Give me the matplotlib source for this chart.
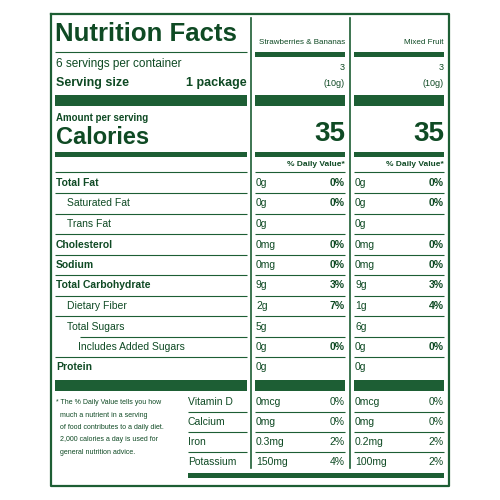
import matplotlib.pyplot as plt

# label data
title = "Nutrition Facts"
products = ["Strawberries & Bananas", "Mixed Fruit"]
servings = ["3", "3"]
serving_grams = ["(10g)", "(10g)"]
calories = ["35", "35"]

nutrients = ["Total Fat", "Saturated Fat", "Trans Fat", "Cholesterol", "Sodium",
             "Total Carbohydrate", "Dietary Fiber", "Total Sugars",
             "Includes Added Sugars", "Protein"]
indent = [0, 1, 1, 0, 0, 0, 1, 1, 2, 0]
amount_a = ["0g", "0g", "0g", "0mg", "0mg", "9g", "2g", "5g", "0g", "0g"]
pct_a = ["0%", "0%", "", "0%", "0%", "3%", "7%", "", "0%", ""]
amount_b = ["0g", "0g", "0g", "0mg", "0mg", "9g", "1g", "6g", "0g", "0g"]
pct_b = ["0%", "0%", "", "0%", "0%", "3%", "4%", "", "0%", ""]

vitamins = ["Vitamin D", "Calcium", "Iron", "Potassium"]
vit_amount_a = ["0mcg", "0mg", "0.3mg", "150mg"]
vit_pct_a = ["0%", "0%", "2%", "4%"]
vit_amount_b = ["0mcg", "0mg", "0.2mg", "100mg"]
vit_pct_b = ["0%", "0%", "2%", "2%"]

footnote = ["* The % Daily Value tells you how", "much a nutrient in a serving",
            "of food contributes to a daily diet.", "2,000 calories a day is used for",
            "general nutrition advice."]

GREEN = "#1d5e34"
TEXT = "#0f4a24"
plt.rcParams['font.family'] = ['Liberation Sans', 'DejaVu Sans']

fig = plt.figure(figsize=(5, 5), dpi=100)
ax = fig.add_axes([0, 0, 1, 1])
ax.set_xlim(0, 500)
ax.set_ylim(500, 0)
ax.axis('off')

def hline(y, x0, x1, lw=1.0):
    ax.plot([x0, x1], [y, y], color=GREEN, lw=lw, solid_capstyle='butt')

def bar(y0, y1, x0, x1):
    ax.fill_between([x0, x1], y0, y1, color=GREEN, lw=0)

def txt(x, y, s, size=7.5, bold=False, ha='left', color=TEXT):
    ax.text(x, y, s, fontsize=size, fontweight='bold' if bold else 'normal',
            ha=ha, va='center', color=color)

# border and column dividers
ax.plot([51, 449, 449, 51, 51], [14, 14, 486, 486, 14], color=GREEN, lw=1.6)
ax.plot([251, 251], [18, 468], color=GREEN, lw=1.2)
ax.plot([350, 350], [18, 468], color=GREEN, lw=1.2)

cols = [(255, 345), (354, 444)]

# header
txt(55, 34, title, size=18.5, bold=True)
hline(52, 55, 247, 0.8)
txt(56, 64, "6 servings per container", size=8.5)
txt(56, 83, "Serving size", size=9, bold=True)
txt(247, 83, "1 package", size=9, bold=True, ha='right')
bar(95, 106, 55, 247)
txt(56, 118, "Amount per serving", size=7, bold=True)
txt(56, 138, "Calories", size=17, bold=True)
bar(152, 157, 55, 247)

for i, (x0, x1) in enumerate(cols):
    txt(x1, 42, products[i], size=5.8, ha='right')
    bar(52, 57, x0, x1)
    txt(x1, 67, servings[i], size=6.5, ha='right')
    txt(x1, 84, serving_grams[i], size=6.5, ha='right')
    bar(95, 106, x0, x1)
    txt(x1, 134, calories[i], size=20, bold=True, ha='right')
    bar(152, 157, x0, x1)
    txt(x1, 165, "% Daily Value*", size=6, bold=True, ha='right')
    hline(172, x0, x1, 0.8)
hline(172, 55, 247, 0.8)

# nutrient rows
row_h = 20.5
amounts = [(amount_a, pct_a), (amount_b, pct_b)]
for r, name in enumerate(nutrients):
    yc = 183 + r * row_h
    txt(56 + indent[r] * 11, yc, name, size=7.5, bold=(indent[r] == 0))
    for (x0, x1), (am, pc) in zip(cols, amounts):
        txt(x0 + 1, yc, am[r], size=7.5)
        if pc[r]:
            txt(x1, yc, pc[r], size=7.5, bold=True, ha='right')
    if r < len(nutrients) - 1:
        yl = yc + 10
        start = 80 if r == 7 else 55
        hline(yl, start, 247, 0.8)
        for x0, x1 in cols:
            hline(yl, x0, x1, 0.8)

bar(380, 391, 55, 247)
for x0, x1 in cols:
    bar(380, 391, x0, x1)

# vitamins and minerals
vit = [(vit_amount_a, vit_pct_a), (vit_amount_b, vit_pct_b)]
for r, name in enumerate(vitamins):
    yc = 402 + r * 20
    txt(188, yc, name, size=7.5)
    for (x0, x1), (am, pc) in zip(cols, vit):
        txt(x0 + 1, yc, am[r], size=7.5)
        txt(x1, yc, pc[r], size=7.5, ha='right')
    if r < len(vitamins) - 1:
        hline(yc + 10, 188, 247, 0.8)
        for x0, x1 in cols:
            hline(yc + 10, x0, x1, 0.8)
bar(473, 478, 188, 444)

for i, line in enumerate(footnote):
    txt(56 if i == 0 else 60, 403 + i * 12.3, line, size=5)

fig.savefig("out.png", dpi=100, facecolor='white')
